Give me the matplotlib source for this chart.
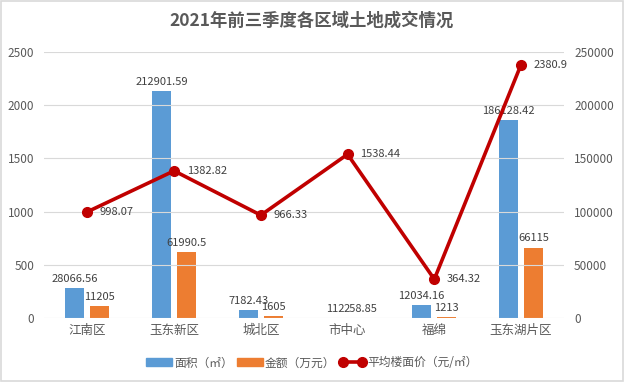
import numpy as np
import matplotlib
matplotlib.use("Agg")
import matplotlib.pyplot as plt
from matplotlib.patches import Rectangle
from matplotlib.lines import Line2D
from matplotlib.patches import Patch

plt.rcParams['font.family'] = ['Noto Sans CJK SC', 'DejaVu Sans']

# ── Dati ────────────────────────────────────────────────────────────────────
districts = ["江南区", "玉东新区", "城北区", "市中心", "福绵", "玉东湖片区"]
area      = [28066.56, 212901.59, 7182.43, 112, 12034.16, 186128.42]
amount    = [11205, 61990.5, 1605, 258.85, 1213, 66115]
price     = [998.07, 1382.82, 966.33, 1538.44, 364.32, 2380.9]
area_lbl  = ["28066.56", "212901.59", "7182.43", "112", "12034.16", "186128.42"]
amt_lbl   = ["11205", "61990.5", "1605", "258.85", "1213", "66115"]
price_lbl = ["998.07", "1382.82", "966.33", "1538.44", "364.32", "2380.9"]

BLUE, ORANGE, RED = "#5B9BD5", "#ED7D31", "#C00000"
GRAY_TXT, GRID = "#595959", "#D9D9D9"
# ─────────────────────────────────────────────────────────────────────────────

fig = plt.figure(figsize=(6.24, 3.82), dpi=100)
ax = fig.add_axes([0.0705, 0.1675, 0.834, 0.6965])
ax2 = ax.twinx()

x = np.arange(len(districts))
w, off = 0.22, 0.145

ax.bar(x - off, area, width=w, color=BLUE, zorder=2)
ax.bar(x + off, amount, width=w, color=ORANGE, zorder=2)
for xi, v, s in zip(x, area, area_lbl):
    ax.annotate(s, (xi - off, v), xytext=(0, 3), textcoords="offset points",
                ha="center", va="bottom", fontsize=8, color="#404040")
for xi, v, s in zip(x, amount, amt_lbl):
    ax.annotate(s, (xi + off, v), xytext=(0, 3), textcoords="offset points",
                ha="center", va="bottom", fontsize=8, color="#404040")

ax2.plot(x, price, color=RED, linewidth=2.6, marker="o", markersize=7, zorder=3)
for xi, v, s in zip(x, price, price_lbl):
    ax2.annotate(s, (xi, v), xytext=(9, 0), textcoords="offset points",
                 ha="left", va="center", fontsize=8, color="#404040")

ax.set_ylim(0, 250000)
ax.set_yticks(np.arange(0, 250001, 50000))
ax2.set_ylim(0, 2500)
ax2.set_yticks(np.arange(0, 2501, 500))
ax.yaxis.tick_right()
ax2.yaxis.tick_left()
ax.set_xlim(-0.5, len(districts) - 0.5)
ax.set_xticks(x)
ax.set_xticklabels(districts)

ax2.grid(axis="y", color=GRID, linewidth=0.8, zorder=0)
ax2.set_axisbelow(True)
for a in (ax, ax2):
    for sp in a.spines.values():
        sp.set_visible(False)
    a.tick_params(length=0, labelsize=8.5, colors=GRAY_TXT)
ax.tick_params(axis="y", pad=7)
ax2.tick_params(axis="y", pad=7)
ax.tick_params(axis="x", pad=4, labelsize=9)

fig.text(0.5, 0.945, "2021年前三季度各区域土地成交情况", ha="center", va="center",
         fontsize=12.5, fontweight="bold", color=GRAY_TXT)

handles = [Patch(color=BLUE), Patch(color=ORANGE),
           Line2D([], [], color=RED, linewidth=2.6, marker="o", markersize=7)]
labels = ["面积（㎡）", "金额（万元）", "平均楼面价（元/㎡）"]
fig.legend(handles, labels, loc="center", bbox_to_anchor=(0.5, 0.05), ncol=3,
           frameon=False, fontsize=8.5, handlelength=2.2, handleheight=0.6,
           columnspacing=0.3, handletextpad=0.2, numpoints=2, labelcolor=GRAY_TXT)

fig.patches.append(Rectangle((0.002, 0.003), 0.996, 0.994, transform=fig.transFigure,
                             fill=False, edgecolor=GRID, linewidth=1.2))

fig.savefig("out.png", dpi=100)
